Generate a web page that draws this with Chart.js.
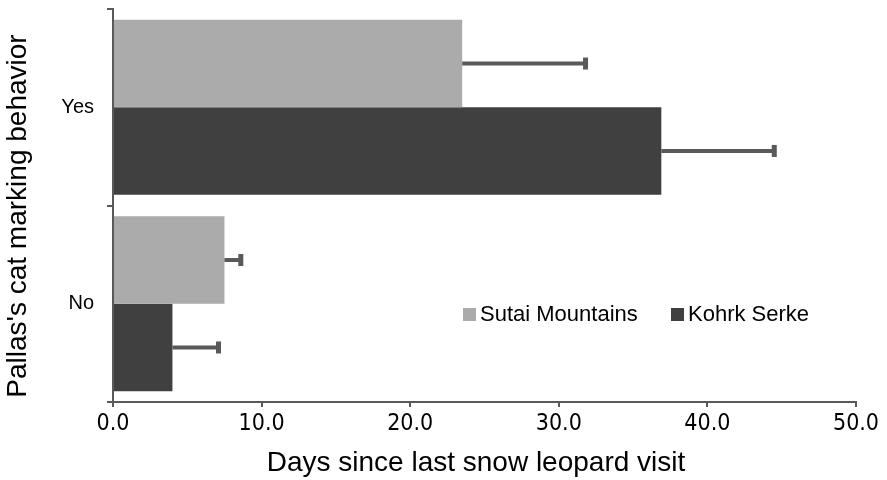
<!DOCTYPE html>
<html>
<head>
<meta charset="utf-8">
<script src="https://cdn.jsdelivr.net/npm/chart.js@4/dist/chart.umd.min.js"></script>
<style>
  html, body { margin: 0; padding: 0; background: #fff; }
  #wrap { width: 887px; height: 480px; }
</style>
</head>
<body>
<div id="wrap"><canvas id="chart" width="887" height="480"></canvas></div>
<script>
const categories = ['Yes', 'No'];
const seriesNames = ['Sutai Mountains', 'Kohrk Serke'];
const sutai = [23.5, 7.5];
const sutaiErr = [8.3, 1.1];
const kohrk = [36.9, 4.0];
const kohrkErr = [7.6, 3.1];
const xTicks = [0, 10, 20, 30, 40, 50];
const xTitle = 'Days since last snow leopard visit';
const yTitle = "Pallas's cat marking behavior";

const colors = ['#ababab', '#404040'];
const axisColor = '#595959';
const font = "'Liberation Sans', Arial, sans-serif";
const narrow = "'Liberation Sans Narrow', 'Arial Narrow', 'DejaVu Sans Condensed', sans-serif";

// positive-only error bars with a flat cap
const errorBars = {
  id: 'errorBars',
  afterDatasetsDraw(chart) {
    const ctx = chart.ctx;
    const x = chart.scales.x;
    chart.data.datasets.forEach((ds, i) => {
      const meta = chart.getDatasetMeta(i);
      meta.data.forEach((bar, j) => {
        const x0 = x.getPixelForValue(ds.data[j]);
        const x1 = x.getPixelForValue(ds.data[j] + ds.errors[j]);
        ctx.save();
        ctx.strokeStyle = axisColor;
        ctx.lineWidth = 4;
        ctx.beginPath();
        ctx.moveTo(x0, bar.y);
        ctx.lineTo(x1, bar.y);
        ctx.stroke();
        ctx.fillStyle = axisColor;
        ctx.fillRect(x1 - 2.5, bar.y - 6, 5, 12);
        ctx.restore();
      });
    });
  }
};

// axis titles and the inset legend
const labels = {
  id: 'labels',
  afterDraw(chart) {
    const ctx = chart.ctx;
    ctx.save();
    ctx.fillStyle = '#000';
    ctx.textBaseline = 'middle';
    ctx.textAlign = 'center';
    ctx.font = `28px ${font}`;
    ctx.fillText(xTitle, 476, 463);
    ctx.translate(18, 216);
    ctx.rotate(-Math.PI / 2);
    ctx.fillText(yTitle, 0, 0);
    ctx.restore();

    ctx.save();
    ctx.font = `22px ${font}`;
    ctx.textBaseline = 'middle';
    ctx.textAlign = 'left';
    const starts = [463, 671];
    seriesNames.forEach((name, i) => {
      ctx.fillStyle = colors[i];
      ctx.fillRect(starts[i], 308, 13, 13);
      ctx.fillStyle = '#000';
      ctx.fillText(name, starts[i] + 17, 315);
    });
    ctx.restore();
  }
};

new Chart(document.getElementById('chart'), {
  type: 'bar',
  data: {
    labels: categories,
    datasets: [
      { label: seriesNames[0], data: sutai, errors: sutaiErr, backgroundColor: colors[0] },
      { label: seriesNames[1], data: kohrk, errors: kohrkErr, backgroundColor: colors[1] }
    ]
  },
  options: {
    responsive: false,
    animation: false,
    indexAxis: 'y',
    layout: { padding: { top: 9, right: 31, left: 0, bottom: 0 } },
    datasets: { bar: { categoryPercentage: 0.89, barPercentage: 1.0 } },
    plugins: { legend: { display: false }, tooltip: { enabled: false } },
    scales: {
      x: {
        min: 0,
        max: 50,
        afterFit: (s) => { s.height = 78; },
        afterBuildTicks: (s) => { s.ticks = xTicks.map((v) => ({ value: v })); },
        ticks: {
          color: '#000',
          font: { family: narrow, size: 23 },
          padding: 3,
          callback: (v) => Number(v).toFixed(1)
        },
        grid: { drawOnChartArea: false, drawTicks: true, tickLength: 5, color: axisColor, lineWidth: 2 },
        border: { color: axisColor, width: 2 }
      },
      y: {
        afterFit: (s) => { s.width = 113; s.paddingTop = 0; s.paddingBottom = 0; },
        ticks: { color: '#000', font: { family: font, size: 20 }, padding: 13 },
        grid: { drawOnChartArea: false, drawTicks: true, tickLength: 6, color: axisColor, lineWidth: 2, offset: true },
        border: { color: axisColor, width: 2 }
      }
    }
  },
  plugins: [errorBars, labels]
});
</script>
</body>
</html>
